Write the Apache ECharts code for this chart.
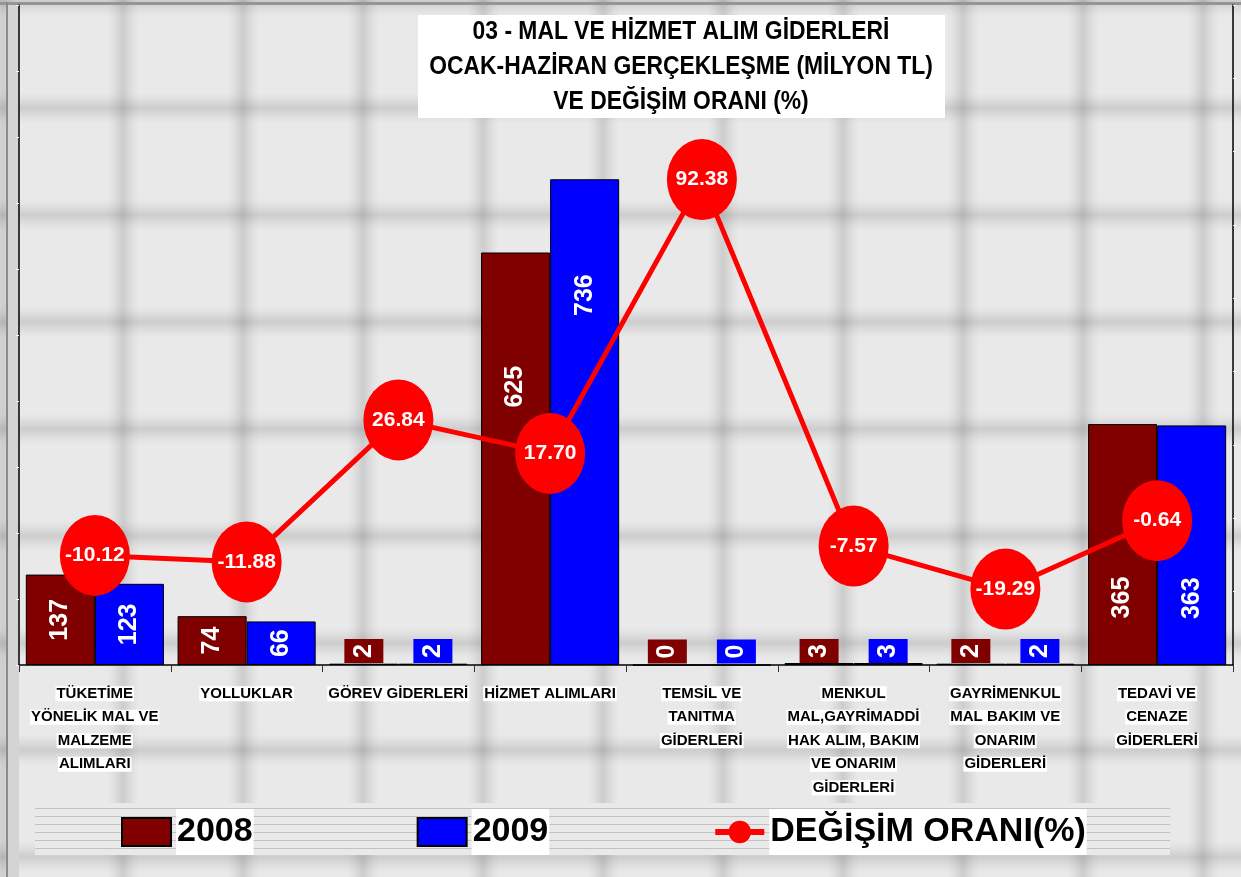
<!DOCTYPE html>
<html>
<head>
<meta charset="utf-8">
<script src="https://cdn.jsdelivr.net/npm/echarts@6/dist/echarts.min.js"></script>
<style>
  html, body { margin: 0; padding: 0; background: #fff; }
  #chart { width: 1241px; height: 877px; }
</style>
</head>
<body>
<div id="chart"></div>
<script>
// data
const categories = [
  'TÜKETİME\nYÖNELİK MAL VE\nMALZEME\nALIMLARI',
  'YOLLUKLAR',
  'GÖREV GİDERLERİ',
  'HİZMET ALIMLARI',
  'TEMSİL VE\nTANITMA\nGİDERLERİ',
  'MENKUL\nMAL,GAYRİMADDİ\nHAK ALIM, BAKIM\nVE ONARIM\nGİDERLERİ',
  'GAYRİMENKUL\nMAL BAKIM VE\nONARIM\nGİDERLERİ',
  'TEDAVİ VE\nCENAZE\nGİDERLERİ'
];
const values2008 = [137, 74, 2, 625, 0, 3, 2, 365];
const values2009 = [123, 66, 2, 736, 0, 3, 2, 363];
const changeRate = [-10.12, -11.88, 26.84, 17.70, 92.38, -7.57, -19.29, -0.64];
const titleLines = [
  '03 - MAL VE HİZMET ALIM GİDERLERİ',
  'OCAK-HAZİRAN GERÇEKLEŞME (MİLYON TL)',
  'VE DEĞİŞİM ORANI (%)'
];

const FONT = "'Liberation Sans', Arial, sans-serif";
const RED_2008 = '#800000';
const BLUE_2009 = '#0000ff';

// labels were dragged by hand in the original so they clear the markers
// (pixels upward; negative = downward)
const labelLift2008 = { 3: 72, 7: -53 };
const labelLift2009 = { 3: 127, 7: -53 };

// grey "pillow" tile used for the whole background
function makeTile() {
  const w = 120, h = 107, band = 16;
  const c = document.createElement('canvas');
  c.width = w; c.height = h;
  const g = c.getContext('2d');
  g.fillStyle = '#e9e9e9';
  g.fillRect(0, 0, w, h);
  const edges = [
    [0, 0, band, 0, 0, 0, band, h],
    [w, 0, w - band, 0, w - band, 0, band, h],
    [0, 0, 0, band, 0, 0, w, band],
    [0, h, 0, h - band, 0, h - band, w, band]
  ];
  edges.forEach(e => {
    const gr = g.createLinearGradient(e[0], e[1], e[2], e[3]);
    gr.addColorStop(0, 'rgba(0,0,0,0.12)');
    gr.addColorStop(0.35, 'rgba(0,0,0,0.07)');
    gr.addColorStop(0.7, 'rgba(0,0,0,0.025)');
    gr.addColorStop(1, 'rgba(0,0,0,0)');
    g.fillStyle = gr;
    g.fillRect(e[4], e[5], e[6], e[7]);
  });
  return c;
}

function makeStripes() {
  const c = document.createElement('canvas');
  c.width = 8; c.height = 8;
  const g = c.getContext('2d');
  g.fillStyle = '#e9e9e9';
  g.fillRect(0, 0, 8, 8);
  g.fillStyle = '#c2c2c2';
  g.fillRect(0, 0, 8, 1);
  return c;
}

// tiny bars get their value in a small coloured box sitting on the axis
function barData(values, color, lift) {
  return values.map((v, i) => {
    if (v < 20) {
      return {
        value: v,
        label: {
          position: 'insideBottom',
          distance: 2,
          align: 'left',
          verticalAlign: 'middle',
          backgroundColor: color,
          padding: [7, 5]
        }
      };
    }
    // label is rotated 90°, so its local x axis points up
    if (lift[i]) return { value: v, label: { offset: [lift[i], 0] } };
    return v;
  });
}

const chart = echarts.init(document.getElementById('chart'), null, { renderer: 'canvas' });

const barLabel = {
  show: true,
  position: 'inside',
  rotate: 90,
  color: '#fff',
  fontFamily: FONT,
  fontWeight: 'bold',
  fontSize: 25
};

const option = {
  animation: false,
  graphic: {
    elements: [
      {
        type: 'rect', z: -10, silent: true, x: 3, y: 1,
        shape: { x: -3, y: -1, width: 1241, height: 877 },
        style: { fill: { image: makeTile(), repeat: 'repeat' } }
      },
      {
        type: 'rect', z: -9, silent: true,
        shape: { x: 8, y: 5, width: 11, height: 872 },
        style: { fill: '#d4d4d4' }
      },
      {
        type: 'rect', z: -8, silent: true,
        shape: { x: 0, y: 2, width: 1241, height: 3 },
        style: { fill: '#959595' }
      },
      {
        type: 'rect', z: -8, silent: true,
        shape: { x: 6, y: 2, width: 2, height: 875 },
        style: { fill: '#8a8a8a' }
      },
      {
        type: 'rect', z: -7, silent: true,
        shape: { x: 35, y: 803, width: 1135, height: 52 },
        style: { fill: { image: makeStripes(), repeat: 'repeat' } }
      },
      {
        type: 'rect', z: 10, silent: true,
        shape: { x: 418, y: 15, width: 527, height: 103 },
        style: { fill: '#fff' }
      },
      {
        type: 'text', z: 11, silent: true,
        x: 681, y: 15, scaleX: 0.915,
        style: {
          text: titleLines.join('\n'),
          align: 'center',
          verticalAlign: 'top',
          fill: '#000',
          font: "bold 25px " + FONT,
          lineHeight: 35
        }
      }
    ]
  },
  legend: {
    left: 116,
    top: 804,
    z: 5,
    itemWidth: 49,
    itemHeight: 28,
    itemGap: 163,
    textStyle: {
      fontFamily: FONT,
      fontWeight: 'bold',
      fontSize: 34,
      color: '#000',
      backgroundColor: '#fff',
      padding: [6, 1, 6, 1]
    },
    data: [
      { name: '2008', icon: 'rect', itemHeight: 26 },
      { name: '2009', icon: 'rect' },
      { name: 'DEĞİŞİM ORANI(%)', lineStyle: { width: 6, color: '#ff0000' } }
    ]
  },
  grid: { left: 19, right: 8, top: 5, bottom: 212 },
  xAxis: {
    type: 'category',
    data: categories,
    axisLine: { lineStyle: { color: '#000', width: 1.5 } },
    axisTick: { show: true, length: 7, lineStyle: { color: '#333' } },
    axisLabel: {
      interval: 0,
      margin: 17,
      formatter: v => v.split('\n').map(s => '{t|' + s + '}{g| }').join('\n'),
      rich: {
        t: {
          fontFamily: FONT,
          fontWeight: 'bold',
          fontSize: 15,
          color: '#000',
          backgroundColor: '#fff',
          lineHeight: 19,
          padding: [0, 1]
        },
        g: { fontSize: 1, lineHeight: 23.5 }
      }
    }
  },
  yAxis: [
    {
      type: 'value', min: 0, max: 1000, interval: 100,
      axisLine: { show: true, lineStyle: { color: '#000', width: 1.5 } },
      axisTick: { show: true, length: 3, lineStyle: { color: '#fafafa' } },
      axisLabel: { show: false },
      splitLine: { show: false }
    },
    {
      type: 'value', min: -40, max: 140, interval: 20, position: 'right',
      axisLine: { show: true, lineStyle: { color: '#000', width: 1.5 } },
      axisTick: { show: true, length: 3, lineStyle: { color: '#fafafa' } },
      axisLabel: { show: false },
      splitLine: { show: false }
    }
  ],
  series: [
    {
      name: '2008',
      type: 'bar',
      barGap: '0%',
      barCategoryGap: '9%',
      itemStyle: { color: RED_2008, borderColor: '#000', borderWidth: 1 },
      label: barLabel,
      data: barData(values2008, RED_2008, labelLift2008)
    },
    {
      name: '2009',
      type: 'bar',
      itemStyle: { color: BLUE_2009, borderColor: '#000', borderWidth: 1 },
      label: barLabel,
      data: barData(values2009, BLUE_2009, labelLift2009)
    },
    {
      name: 'DEĞİŞİM ORANI(%)',
      type: 'line',
      yAxisIndex: 1,
      z: 5,
      symbol: 'circle',
      symbolSize: [70, 81],
      lineStyle: { color: '#ff0000', width: 5 },
      itemStyle: { color: '#ff0000' },
      label: {
        show: true,
        position: 'inside',
        color: '#fff',
        fontFamily: FONT,
        fontWeight: 'bold',
        fontSize: 21,
        formatter: p => p.value.toFixed(2)
      },
      data: changeRate
    }
  ]
};

chart.setOption(option);
</script>
</body>
</html>
